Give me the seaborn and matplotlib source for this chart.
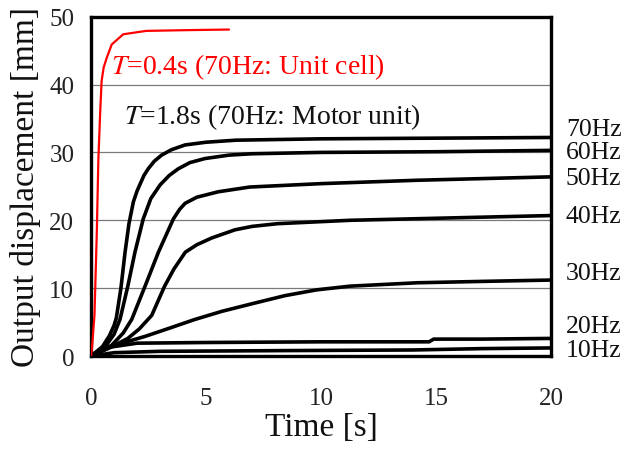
import matplotlib
matplotlib.use("Agg")
import matplotlib.pyplot as plt
import seaborn as sns
import pandas as pd

# Step responses of the motor unit at each drive frequency (time [s], displacement [mm])
t_70 = [0, 0.5, 0.8, 1.0, 1.1, 1.3, 1.48, 1.65, 1.84, 2.0, 2.13, 2.3, 2.49, 2.75,
        3.07, 3.5, 4.09, 5.0, 6.3, 10, 15, 20]
v_70 = [0, 1.4, 3.0, 4.5, 5.6, 10.0, 15.3, 19.5, 22.7, 24.3, 25.3, 26.6, 27.6, 28.7,
        29.6, 30.4, 31.1, 31.5, 31.8, 32.0, 32.1, 32.2]

t_60 = [0, 0.6, 1.0, 1.26, 1.6, 1.91, 2.27, 2.6, 3.0, 3.4, 3.8, 4.3, 4.96, 6.0,
        7.0, 10, 15, 20]
v_60 = [0, 1.3, 3.2, 5.4, 10.3, 15.3, 20.2, 23.2, 25.2, 26.6, 27.6, 28.5, 29.1, 29.6,
        29.8, 30.0, 30.1, 30.3]

t_50 = [0, 0.9, 1.4, 1.77, 2.35, 2.93, 3.58, 3.85, 4.09, 4.6, 5.53, 6.9, 10, 14.2, 20]
v_50 = [0, 1.6, 3.4, 5.4, 10.3, 15.3, 20.2, 21.6, 22.5, 23.4, 24.2, 24.9, 25.4, 25.9, 26.4]

t_40 = [0, 0.8, 1.6, 2.1, 2.64, 3.2, 3.6, 4.1, 4.6, 5.25, 6.26, 7.0, 8.1, 11.26, 15, 20]
v_40 = [0, 1.2, 2.6, 4.0, 6.0, 10.3, 12.8, 15.3, 16.4, 17.4, 18.6, 19.1, 19.5, 20.0, 20.3, 20.7]

t_30 = [0, 0.9, 2.35, 3.4, 4.52, 5.7, 6.99, 8.43, 9.8, 11.26, 14.2, 17, 20]
v_30 = [0, 1.45, 2.9, 4.1, 5.4, 6.6, 7.7, 8.9, 9.75, 10.3, 10.8, 11.0, 11.2]

t_20 = [0, 0.8, 2.0, 5, 10, 14.7, 14.9, 17, 20]
v_20 = [0, 1.3, 1.9, 2.0, 2.1, 2.1, 2.5, 2.5, 2.6]

t_10 = [0, 1, 3, 8, 14, 17, 20]
v_10 = [0, 0.5, 0.7, 0.8, 0.9, 1.1, 1.2]

# Unit cell response at 70 Hz
t_cell = [0, 0.05, 0.15, 0.25, 0.32, 0.4, 0.46, 0.55, 0.68, 0.9, 1.4, 2.4, 4.0, 6.0]
v_cell = [0, 1.5, 6, 18, 29, 36, 40.5, 42.5, 43.9, 45.9, 47.4, 47.9, 48.0, 48.1]

freq_labels = ["70Hz", "60Hz", "50Hz", "40Hz", "30Hz", "20Hz", "10Hz"]
freq_label_y = [33.5, 30.0, 26.3, 20.7, 12.3, 4.4, 0.9]

x_ticks = [0, 5, 10, 15, 20]
y_ticks = [0, 10, 20, 30, 40, 50]

sns.set_theme(style="white")
plt.rcParams["font.family"] = ["Liberation Serif", "DejaVu Serif"]
plt.rcParams["mathtext.fontset"] = "stix"

fig = plt.figure(figsize=(6.29, 4.52), dpi=100)
ax = fig.add_axes([0.1447, 0.21, 0.7313, 0.751])

# horizontal grid
for yv in y_ticks[1:-1]:
    ax.axhline(yv, color="#7a7a7a", lw=0.9, zorder=0)

motor = [(t_70, v_70), (t_60, v_60), (t_50, v_50), (t_40, v_40),
         (t_30, v_30), (t_20, v_20), (t_10, v_10)]
for tt, vv in motor:
    df = pd.DataFrame({"t": tt, "v": vv})
    sns.lineplot(data=df, x="t", y="v", ax=ax, color="black", lw=2.6,
                 sort=False, estimator=None, zorder=3)

df_cell = pd.DataFrame({"t": t_cell, "v": v_cell})
sns.lineplot(data=df_cell, x="t", y="v", ax=ax, color="#ff0000", lw=1.6,
             sort=False, estimator=None, zorder=4)

ax.set_xlim(0, 20)
ax.set_ylim(0, 50)
ax.set_xticks(x_ticks)
ax.set_yticks(y_ticks)
ax.set_xticklabels([str(v) for v in x_ticks], fontsize=18)
ax.set_yticklabels([str(v) for v in y_ticks], fontsize=18)
ax.tick_params(axis="x", direction="in", length=4, width=1, pad=22, colors="black")
ax.tick_params(axis="y", length=0, pad=12, colors="black")
for lab in ax.get_xticklabels() + ax.get_yticklabels():
    lab.set_color("#222222")

for s in ax.spines.values():
    s.set_color("black")
    s.set_linewidth(2.4)

ax.set_xlabel("Time [s]", fontsize=24, labelpad=2, color="#111111")
ax.set_ylabel("Output displacement [mm]", fontsize=24, labelpad=6, color="#111111")

# frequency labels beyond the right frame
for lab, yv in zip(freq_labels, freq_label_y):
    ax.text(20.65, yv, lab, fontsize=18.5, va="center", ha="left",
            color="#111111", clip_on=False)

ax.text(0.85, 42.7, "$T$=0.4s (70Hz: Unit cell)", fontsize=20, color="#ff0000",
        va="center", ha="left")
ax.text(1.45, 35.3, "$T$=1.8s (70Hz: Motor unit)", fontsize=20, color="#111111",
        va="center", ha="left")

fig.savefig("out.png", dpi=100)
